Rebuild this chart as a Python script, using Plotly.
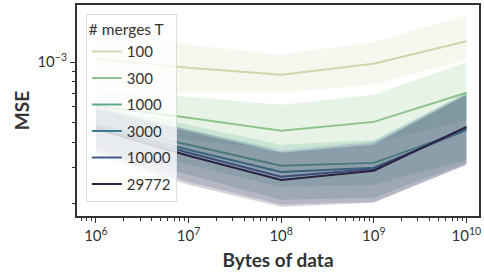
import numpy as np
import plotly.graph_objects as go

bytes_of_data = [1e6, 1e7, 1e8, 1e9, 1e10]
merges = ["100", "300", "1000", "3000", "10000", "29772"]
colors = ["#d0d6ae", "#8dc38d", "#5ba88b", "#3e7b8c", "#435789", "#2b2140"]

# MSE values in units of 1e-4
mse_mean = {
    "100":   [10.4, 9.37, 8.65, 9.81, 12.7],
    "300":   [6.08, 5.30, 4.57, 5.06, 7.05],
    "1000":  [4.89, 3.90, 3.07, 3.17, 4.62],
    "3000":  [4.84, 3.68, 2.86, 3.00, 4.62],
    "10000": [4.78, 3.56, 2.71, 2.96, 4.73],
    "29772": [4.68, 3.44, 2.61, 2.90, 4.78],
}
mse_upper = {
    "100":   [13.2, 12.2, 10.9, 12.6, 17.1],
    "300":   [7.29, 6.73, 6.15, 6.89, 10.0],
    "1000":  [6.15, 4.89, 3.90, 4.12, 7.05],
    "3000":  [5.94, 4.62, 3.68, 4.03, 7.05],
    "10000": [5.94, 4.62, 3.60, 3.98, 6.89],
    "29772": [5.94, 4.52, 3.56, 3.90, 6.89],
}
mse_lower = {
    "100":   [7.72, 7.05, 7.05, 7.72, 10.3],
    "300":   [4.89, 4.12, 3.68, 3.98, 5.18],
    "1000":  [3.90, 3.10, 2.41, 2.47, 3.28],
    "3000":  [3.68, 2.77, 2.08, 2.13, 3.17],
    "10000": [3.60, 2.55, 1.97, 2.03, 3.10],
    "29772": [3.48, 2.47, 1.92, 2.01, 3.10],
}
scale = 1e-4

x_tickvals = [1e6, 1e7, 1e8, 1e9, 1e10]
x_ticktext = ["10<sup>6</sup>", "10<sup>7</sup>", "10<sup>8</sup>", "10<sup>9</sup>", "10<sup>10</sup>"]
y_tickvals = [1e-3]
y_ticktext = ["10<sup>\u22123</sup>"]


def rgba(hex_color, a):
    h = hex_color.lstrip("#")
    r, g, b = int(h[0:2], 16), int(h[2:4], 16), int(h[4:6], 16)
    return f"rgba({r},{g},{b},{a})"


fig = go.Figure()
for name, col in zip(merges, colors):
    lo = np.array(mse_lower[name]) * scale
    hi = np.array(mse_upper[name]) * scale
    mu = np.array(mse_mean[name]) * scale
    fig.add_trace(go.Scatter(x=bytes_of_data, y=lo, mode="lines", line=dict(width=0, color=col),
                             showlegend=False, hoverinfo="skip", legendgroup=name))
    fig.add_trace(go.Scatter(x=bytes_of_data, y=hi, mode="lines", line=dict(width=0, color=col),
                             fill="tonexty", fillcolor=rgba(col, 0.2),
                             showlegend=False, hoverinfo="skip", legendgroup=name))
    fig.add_trace(go.Scatter(x=bytes_of_data, y=mu, mode="lines", name=name,
                             line=dict(width=2, color=col), legendgroup=name))

axis_color = "#333333"
fig.update_layout(
    width=484, height=276,
    margin=dict(l=77, r=3, t=5, b=60),
    paper_bgcolor="white", plot_bgcolor="white",
    font=dict(family="Lato, Open Sans, sans-serif", size=15, color="#333333"),
    showlegend=True,
    legend=dict(
        title=dict(text="# merges T", font=dict(size=15.5)),
        x=0.022, y=0.957, xanchor="left", yanchor="top",
        bgcolor="rgba(255,255,255,0.8)", bordercolor="#dddddd", borderwidth=1,
        font=dict(size=15), traceorder="grouped", tracegroupgap=4,
        itemwidth=30,
    ),
    xaxis=dict(
        type="log", range=[5.796, 10.136],
        tickvals=x_tickvals, ticktext=x_ticktext,
        ticks="outside", ticklen=5, tickwidth=1, tickcolor=axis_color,
        minor=dict(ticks="outside", ticklen=3, tickcolor=axis_color, dtick="D1", showgrid=False),
        showgrid=False, zeroline=False,
        showline=True, linecolor=axis_color, linewidth=2, mirror=True,
        title=dict(text="<b>Bytes of data</b>", font=dict(size=19), standoff=11),
        tickfont=dict(size=15),
    ),
    yaxis=dict(
        type="log", range=[-3.762, -2.717],
        tickvals=y_tickvals, ticktext=y_ticktext,
        ticks="outside", ticklen=5, tickwidth=1, tickcolor=axis_color,
        minor=dict(ticks="outside", ticklen=3, tickcolor=axis_color, dtick="D1", showgrid=False),
        showgrid=False, zeroline=False,
        showline=True, linecolor=axis_color, linewidth=2, mirror=True,
        title=dict(text="<b>MSE</b>", font=dict(size=19), standoff=3),
        tickfont=dict(size=15),
    ),
)

fig.write_html("out.html", config={"displayModeBar": False},
               post_script="document.body.style.margin='0';")
